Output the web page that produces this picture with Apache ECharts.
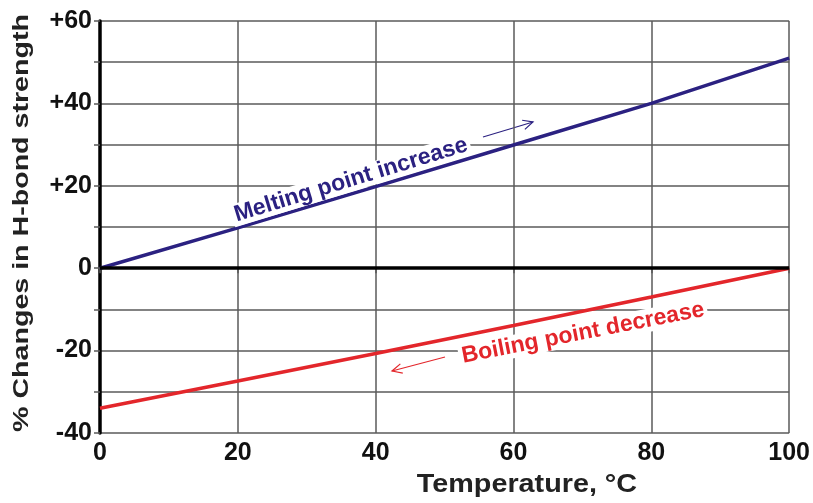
<!DOCTYPE html>
<html>
<head>
<meta charset="utf-8">
<script src="https://cdn.jsdelivr.net/npm/echarts@6/dist/echarts.min.js"></script>
<style>
  html, body { margin: 0; padding: 0; background: #fff; }
  #chart { width: 813px; height: 503px; }
</style>
</head>
<body>
<div id="chart"></div>
<script>
// temperature, °C
const temps = [0, 20, 40, 60, 80, 100]
// % change in H-bond strength
const meltingIncrease = [0, 9.8, 19.8, 29.9, 40, 51]
const boilingDecrease = [-34, -27.4, -20.7, -13.9, -7, 0]
const yTickLabels = { '-40': '-40', '-20': '-20', '0': '0', '20': '+20', '40': '+40', '60': '+60' }

const FONT = 'Liberation Sans, Arial, sans-serif'
const BLUE = '#2b2181'
const RED = '#e3262b'
const GRID = '#5a5a5a'

function pairs(xs, ys) {
  return xs.map((x, i) => [x, ys[i]])
}

// thin annotation arrow, head at (x2, y2)
function arrow(x1, y1, x2, y2, color) {
  const a = Math.atan2(y2 - y1, x2 - x1)
  const len = 11, spread = 0.45
  return {
    type: 'group',
    z: 10,
    children: [
      { type: 'line', shape: { x1, y1, x2, y2 }, style: { stroke: color, lineWidth: 1.2 } },
      {
        type: 'polyline',
        shape: {
          points: [
            [x2 - len * Math.cos(a - spread), y2 - len * Math.sin(a - spread)],
            [x2, y2],
            [x2 - len * Math.cos(a + spread), y2 - len * Math.sin(a + spread)]
          ]
        },
        style: { stroke: color, lineWidth: 1.2, fill: null }
      }
    ]
  }
}

const chart = echarts.init(document.getElementById('chart'))
chart.setOption({
  animation: false,
  grid: { left: 100, right: 21, top: 21, bottom: 70 },
  xAxis: {
    type: 'value',
    min: 0,
    max: 100,
    interval: 20,
    axisLine: { show: false },
    axisTick: { show: true, length: 5, lineStyle: { color: GRID, width: 1.5 } },
    axisLabel: { color: '#111', fontFamily: FONT, fontWeight: 'bold', fontSize: 25, margin: 8 },
    splitLine: { show: true, lineStyle: { color: GRID, width: 1.5 } }
  },
  yAxis: {
    type: 'value',
    min: -40,
    max: 60,
    interval: 10,
    axisLine: { show: true, onZero: false, lineStyle: { color: '#000', width: 3.5 } },
    axisTick: { show: true, length: 6, lineStyle: { color: GRID, width: 1.5 } },
    axisLabel: {
      color: '#111', fontFamily: FONT, fontWeight: 'bold', fontSize: 25, margin: 8,
      formatter: v => yTickLabels[String(v)] || ''
    },
    splitLine: { show: true, lineStyle: { color: GRID, width: 1.5 } }
  },
  series: [
    {
      name: 'Melting point increase',
      type: 'line',
      data: pairs(temps, meltingIncrease),
      symbol: 'none',
      lineStyle: { color: BLUE, width: 3.5 },
      z: 3,
      markLine: {
        silent: true,
        symbol: 'none',
        label: { show: false },
        lineStyle: { color: '#000', width: 3.5, type: 'solid' },
        data: [{ yAxis: 0 }]
      }
    },
    {
      name: 'Boiling point decrease',
      type: 'line',
      data: pairs(temps, boilingDecrease),
      symbol: 'none',
      lineStyle: { color: RED, width: 3.5 },
      z: 4
    }
  ],
  graphic: [
    {
      type: 'text', x: 351, y: 180, rotation: 17 * Math.PI / 180, z: 10,
      style: {
        text: 'Melting point increase', fill: BLUE, font: 'bold 23px ' + FONT,
        align: 'center', verticalAlign: 'middle',
        backgroundColor: '#fff', padding: [0, 3]
      }
    },
    {
      type: 'text', x: 583, y: 333, rotation: 11 * Math.PI / 180, z: 10,
      style: {
        text: 'Boiling point decrease', fill: RED, font: 'bold 23px ' + FONT,
        align: 'center', verticalAlign: 'middle',
        backgroundColor: '#fff', padding: [0, 3]
      }
    },
    arrow(483, 137, 533, 122, BLUE),
    arrow(445, 357, 392, 371, RED),
    {
      type: 'text', x: 22, y: 223, rotation: Math.PI / 2, scaleX: 1.3,
      style: {
        text: '% Changes in H-bond strength', fill: '#222', font: 'bold 22px ' + FONT,
        align: 'center', verticalAlign: 'middle'
      }
    },
    {
      type: 'text', x: 527, y: 485, scaleX: 1.15,
      style: {
        text: 'Temperature, °C', fill: '#222', font: 'bold 25px ' + FONT,
        align: 'center', verticalAlign: 'middle'
      }
    }
  ]
})
</script>
</body>
</html>
